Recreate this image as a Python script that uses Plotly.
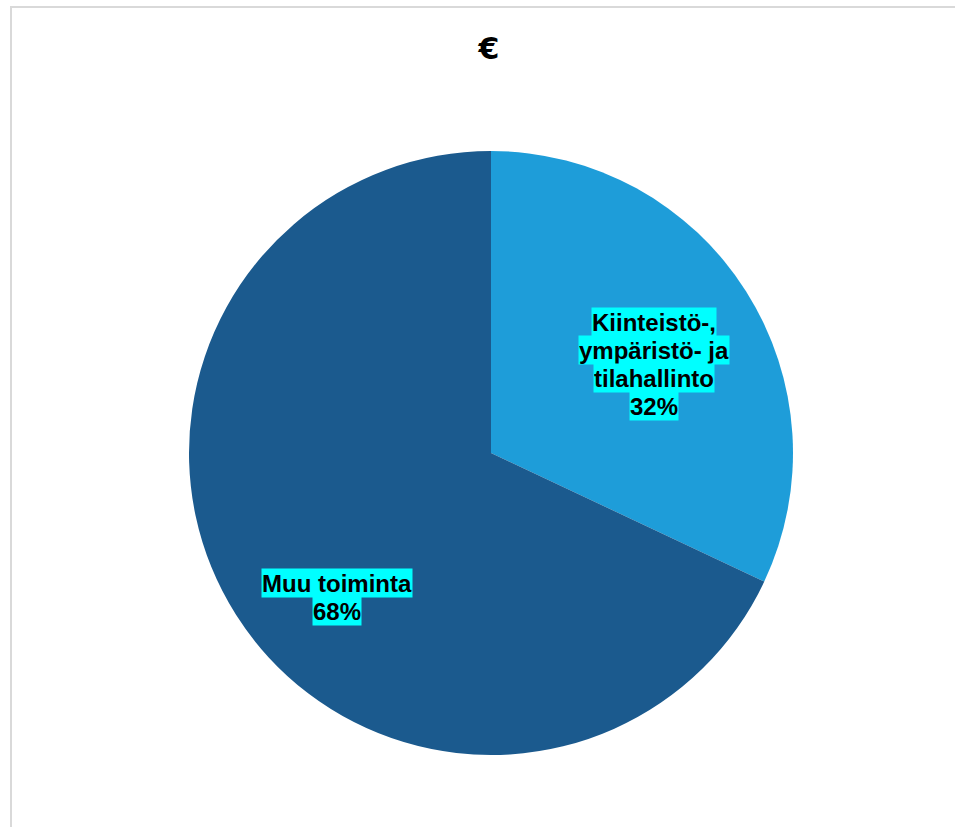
import plotly.graph_objects as go

# Budget split in euros
categories = ["Kiinteistö-, ympäristö- ja tilahallinto", "Muu toiminta"]
shares = [32, 68]
slice_colors = ["#1E9DD9", "#1B5A8E"]

# Label text wrapped into lines, and where each label block sits (pixel centre)
label_lines = [["Kiinteistö-,", "ympäristö- ja", "tilahallinto"], ["Muu toiminta"]]
label_centres = [(654, 364), (337, 597)]

W, H = 955, 827
cx, cy, r = 491, 453, 302

fig = go.Figure(
    go.Pie(
        labels=categories,
        values=shares,
        sort=False,
        direction="clockwise",
        rotation=0,
        marker=dict(colors=slice_colors, line=dict(width=0)),
        textinfo="none",
        hoverinfo="skip",
        showlegend=False,
        domain=dict(
            x=[(cx - r) / W, (cx + r) / W],
            y=[1 - (cy + r) / H, 1 - (cy - r) / H],
        ),
    )
)

# Data labels: one annotation per line so each line gets its own highlight box
line_h = 28
font = dict(family="Liberation Sans, Arial, sans-serif", size=24, color="black", weight="bold")
annotations = []
for lines, share, (lx, ly) in zip(label_lines, shares, label_centres):
    all_lines = lines + [f"{share}%"]
    n = len(all_lines)
    top = ly - n * line_h / 2
    for i, txt in enumerate(all_lines):
        yc = top + (i + 0.5) * line_h
        annotations.append(
            dict(
                text=txt,
                x=lx / W,
                y=1 - yc / H,
                xref="paper",
                yref="paper",
                xanchor="center",
                yanchor="middle",
                showarrow=False,
                font=font,
                bgcolor="#00FFFF",
                borderpad=0,
                height=line_h,
            )
        )

fig.update_layout(
    width=W,
    height=H,
    margin=dict(l=0, r=0, t=0, b=0),
    paper_bgcolor="white",
    plot_bgcolor="white",
    title=dict(
        text="€",
        x=489 / W,
        xanchor="center",
        y=1 - 48 / H,
        yanchor="middle",
        font=dict(family="DejaVu Sans, sans-serif", size=30, color="black", weight="bold"),
    ),
    annotations=annotations,
    shapes=[
        dict(
            type="rect",
            xref="paper",
            yref="paper",
            x0=11 / W,
            x1=1.05,
            y0=-0.05,
            y1=1 - 7 / H,
            line=dict(color="#D9D9D9", width=2),
            fillcolor="rgba(0,0,0,0)",
            layer="below",
        )
    ],
)

fig.write_html("out.html")
